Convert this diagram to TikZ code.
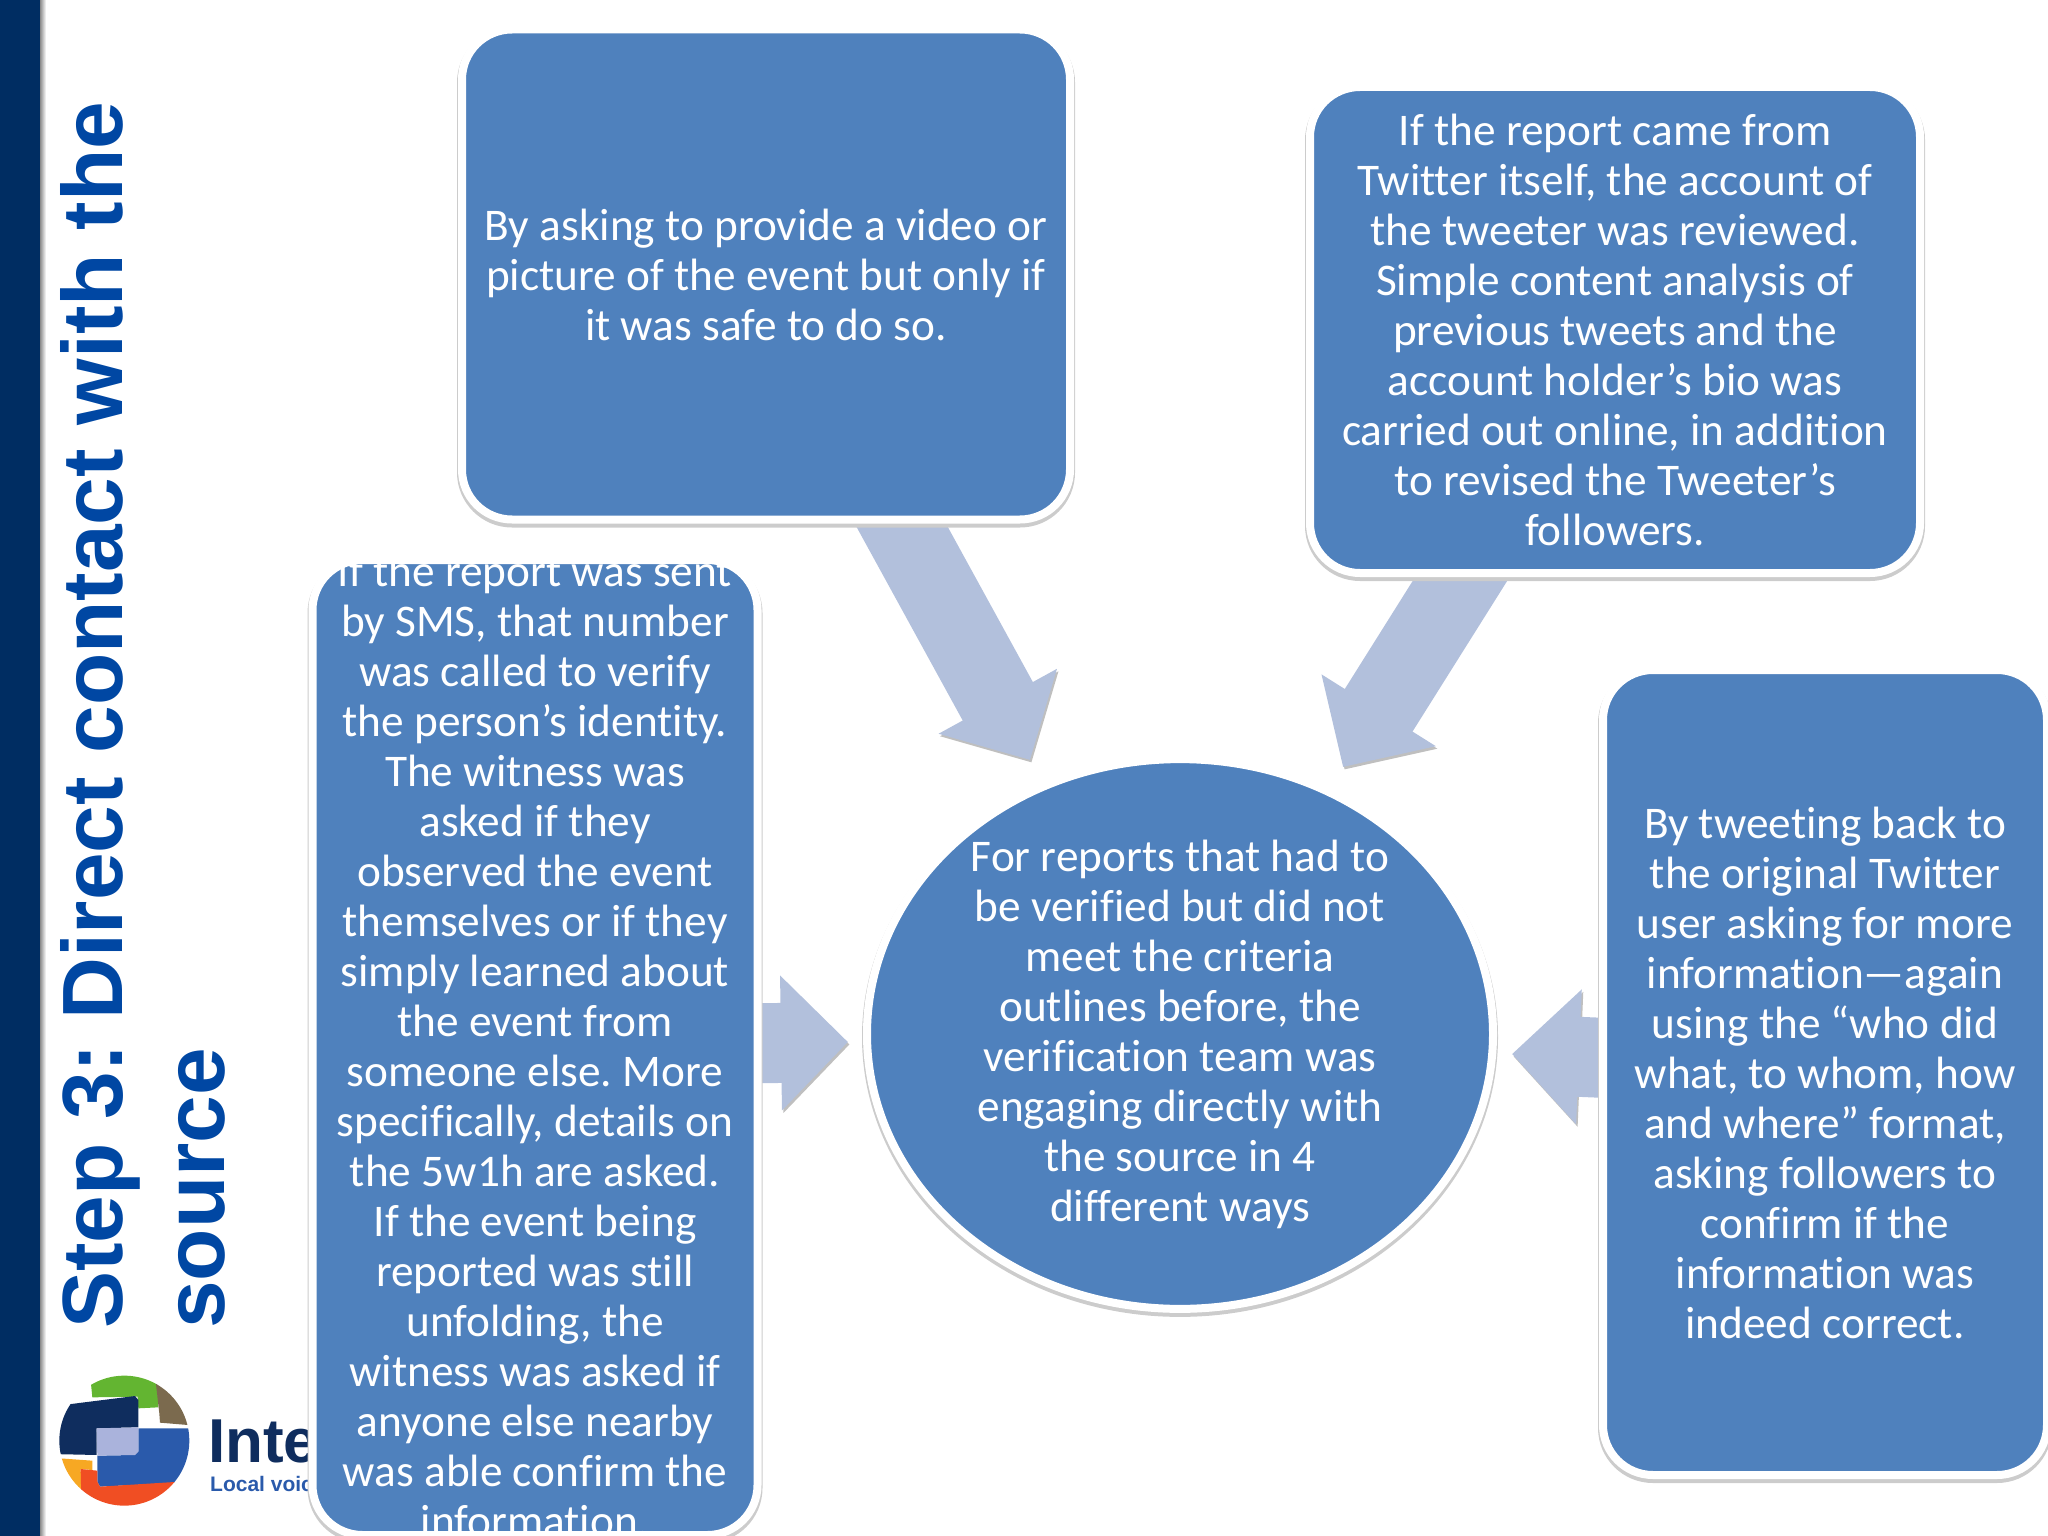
\documentclass[tikz,border=0pt]{standalone}
\usepackage{fontspec}
\setmainfont[Ligatures=NoCommon]{Carlito}
\newfontfamily\titlefont{Liberation Sans}
\usetikzlibrary{arrows.meta,backgrounds,shapes.geometric}
\definecolor{boxblue}{HTML}{4F81BD}
\definecolor{arrowblue}{HTML}{B2C0DC}
\definecolor{barnavy}{HTML}{002D62}
\definecolor{titleblue}{HTML}{0047A3}
\definecolor{logonavy}{HTML}{0F2D5E}
\definecolor{logoblue}{HTML}{2A5AAB}
\definecolor{logolight}{HTML}{AAB3DC}
\definecolor{logogreen}{HTML}{63B531}
\definecolor{logobrown}{HTML}{7B6A4E}
\definecolor{logoyellow}{HTML}{F7A823}
\definecolor{logored}{HTML}{F04E23}
\frenchspacing
\begin{document}
\begin{tikzpicture}[x=1pt,y=-1pt,
    boxtext/.style={text=white, align=center, inner sep=0pt,
    font=\fontsize{45.3}{50}\selectfont},
    frame/.style={boxtext, draw=white, fill=boxblue, line width=8pt,
    preaction={draw=black!20, line width=10pt,
    transform canvas={yshift=-3pt}}},
    roundbox/.style={frame, rectangle, rounded corners=50pt},
    blockarrow/.style={draw=arrowblue, line width=80pt,
    -{Triangle[width=131pt,length=67pt]},
    preaction={draw=black!25, transform canvas={shift={(1.5pt,-2.5pt)}}}}]
    \useasboundingbox (0,0) rectangle (2048,1536);
    \fill[barnavy] (0,0) rectangle (40,1536);
    \shade[left color=black!45, right color=white] (40,0) rectangle (46,1536);
    \node[rotate=90, anchor=north west, align=left, inner sep=0pt,
        text=titleblue, font=\titlefont\bfseries\fontsize{85.6}{102}\selectfont]
        (title) at (60,1329) {Step 3: Direct contact with the\\source};
    \begin{scope}[shift={(0,1300)},scale=.3333]
        \clip (373,422) circle (195);
        \fill[logogreen] (270,220) -- (470,220) -- (475,322) -- (415,325)
            -- (413,290) -- (277,292) -- cycle;
        \fill[logobrown] (468,253) -- (470,200) -- (600,300) -- (600,378)
            -- (480,368) -- (478,340) -- cycle;
        \fill[logonavy] (150,320) -- (405,288) -- (415,300) -- (415,382)
            -- (290,385) -- (290,465) -- (150,462) -- cycle;
        \fill[logoblue] (415,385) -- (600,385) -- (600,545) -- (300,560)
            -- (292,545) -- (292,467) -- (405,465) -- (415,455) -- cycle;
        \fill[logolight] (290,385) -- (415,382) -- (415,455) -- (405,465)
            -- (292,467) -- cycle;
        \fill[logoyellow] (150,473) -- (277,482) -- (277,510) -- (242,507)
            -- (245,600) -- (150,600) -- cycle;
        \fill[logored] (242,507) -- (292,512) -- (292,545) -- (300,560)
            -- (540,545) -- (540,640) -- (245,640) -- cycle;
    \end{scope}
    \node[anchor=base west, inner sep=0pt, text=logonavy,
        font=\titlefont\bfseries\fontsize{62}{62}\selectfont]
        (logoname) at (208,1462) {Inte};
    \node[anchor=base west, inner sep=0pt, text=logoblue,
        font=\titlefont\bfseries\fontsize{21}{21}\selectfont]
        (logotag) at (210,1491) {Local voic};
    \node[roundbox, minimum width=608pt, minimum height=490pt] (videobox)
        at (766,274.5) {By asking to provide a video or\\picture of the event but only if\\it was safe to do so.};
    \node[roundbox, minimum width=610pt, minimum height=486pt] (twitterbox)
        at (1615,330) {If the report came from\\Twitter itself, the account of\\the tweeter was reviewed.\\Simple content analysis of\\previous tweets and the\\account holder’s bio was\\carried out online, in addition\\to revised the Tweeter’s\\followers.};
    \node[roundbox, minimum width=444pt, minimum height=805pt] (tweetbox)
        at (1825,1072.5) {By tweeting back to\\the original Twitter\\user asking for more\\information—again\\using the “who did\\what, to whom, how\\and where” format,\\asking followers to\\confirm if the\\information was\\indeed correct.};
    \node[roundbox, minimum width=445pt, minimum height=975pt] (smsbox)
        at (535,1047.5) {};
    \begin{scope}
        \clip[rounded corners=46pt] ([shift={(4pt,4pt)}]smsbox.south west)
            rectangle ([shift={(-4pt,-4pt)}]smsbox.north east);
        \node[boxtext] (smstext) at (535,1046) {If the report was sent\\by SMS, that number\\was called to verify\\the person’s identity.\\The witness was\\asked if they\\observed the event\\themselves or if they\\simply learned about\\the event from\\someone else. More\\specifically, details on\\the 5w1h are asked.\\If the event being\\reported was still\\unfolding, the\\witness was asked if\\anyone else nearby\\was able confirm the\\information.};
    \end{scope}
    \node[frame, ellipse, minimum width=626pt, minimum height=547pt] (reportcircle)
        at (1180,1034) {For reports that had to\\be verified but did not\\meet the criteria\\outlines before, the\\verification team was\\engaging directly with\\the source in 4\\different ways};
    \coordinate (videotip) at (1030,760);
    \coordinate (twittertip) at (1343,767);
    \coordinate (smstip) at (848,1042);
    \coordinate (tweettip) at (1512,1054);
    \begin{scope}[on background layer]
        \draw[blockarrow] ([shift={(120pt,26pt)}]videobox.south) -- (videotip);
        \draw[blockarrow] ([shift={(-135pt,28pt)}]twitterbox.south) -- (twittertip);
        \draw[blockarrow] ([shift={(-20pt,4pt)}]smsbox.east) -- (smstip);
        \draw[blockarrow] ([shift={(20pt,14pt)}]tweetbox.west) -- (tweettip);
    \end{scope}
\end{tikzpicture}
\end{document}
